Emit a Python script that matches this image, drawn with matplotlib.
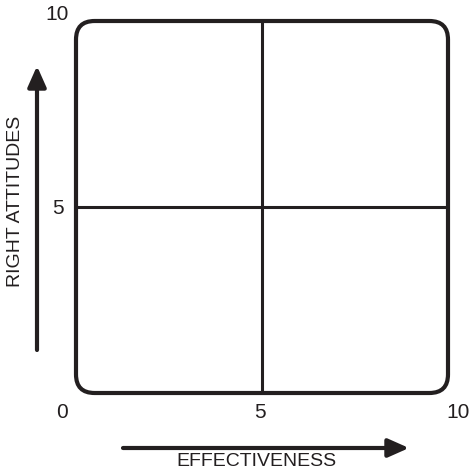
import matplotlib
matplotlib.use("Agg")
import matplotlib.pyplot as plt
from matplotlib.patches import FancyBboxPatch

plt.rcParams['font.family'] = ['Liberation Sans', 'DejaVu Sans']

# axis scale of the grid
x_range = [0, 10]
y_range = [0, 10]
x_mid = 5
y_mid = 5
x_tick_vals = [0, 5, 10]
x_tick_labels = ['0', '5', '10']
y_tick_vals = [5, 10]
y_tick_labels = ['5', '10']
x_title = 'EFFECTIVENESS'
y_title = 'RIGHT ATTITUDES'

INK = '#231f20'
W, H = 473, 471
fig = plt.figure(figsize=(W / 100, H / 100), dpi=100)
ax = fig.add_axes([76 / W, 1 - 393 / H, 372 / W, 372 / H])
ax.set_xlim(x_range)
ax.set_ylim(y_range)
ax.axis('off')

# rounded outer box
box = FancyBboxPatch((x_range[0], y_range[0]), x_range[1] - x_range[0], y_range[1] - y_range[0],
                     boxstyle='round,pad=0,rounding_size=0.5',
                     fill=False, ec=INK, lw=3.0, transform=ax.transData, clip_on=False)
ax.add_patch(box)

# quadrant lines
ax.plot([x_mid, x_mid], y_range, color=INK, lw=2.2, solid_capstyle='butt')
ax.plot(x_range, [y_mid, y_mid], color=INK, lw=2.2, solid_capstyle='butt')

# tick labels (0 sits at the corner, 10 pushed outwards a bit)
x_off = {'0': -14, '5': -2, '10': 10}
for v, lab in zip(x_tick_vals, x_tick_labels):
    ax.annotate(lab, (v, y_range[0]), xytext=(x_off[lab], -20), textcoords='offset pixels',
                ha='center', va='center', fontsize=15, color=INK)
y_off = {'5': (-18, -2), '10': (-19, 6)}
for v, lab in zip(y_tick_vals, y_tick_labels):
    dx, dy = y_off[lab]
    ax.annotate(lab, (x_range[0], v), xytext=(dx, dy), textcoords='offset pixels',
                ha='center', va='center', fontsize=15, color=INK)

# axis arrows
arrow = dict(arrowstyle='-|>,head_length=0.9,head_width=0.4', lw=3.0, color=INK,
             shrinkA=0, shrinkB=0, mutation_scale=14)
ax.annotate('', xy=(37 / W, 1 - 66 / H), xytext=(37 / W, 1 - 350 / H),
            xycoords='figure fraction', textcoords='figure fraction', arrowprops=arrow)
ax.annotate('', xy=(409 / W, 1 - 448 / H), xytext=(123 / W, 1 - 448 / H),
            xycoords='figure fraction', textcoords='figure fraction', arrowprops=arrow)

fig.text(15.5 / W, 1 - 201 / H, y_title, rotation=90, ha='center', va='center',
         fontsize=14, color=INK)
fig.text(256 / W, 1 - 462 / H, x_title, ha='center', va='center', fontsize=14, color=INK)

fig.savefig('out.png', dpi=100)
